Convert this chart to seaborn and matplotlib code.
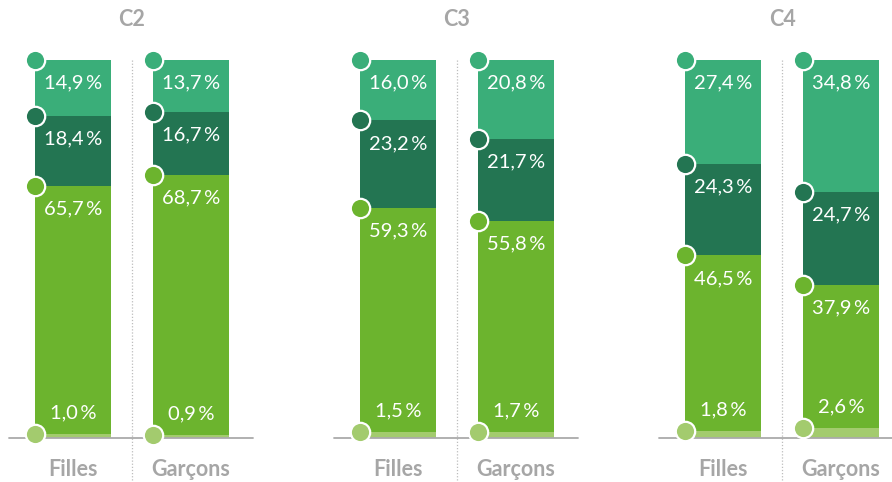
import matplotlib
matplotlib.use("Agg")
import matplotlib.pyplot as plt
import seaborn as sns
import numpy as np
import pandas as pd

# Data: share of pupils per level, stacked from bottom to top
cycles = ["C2", "C3", "C4"]
groupes = ["Filles", "Garçons"]
niveau_1 = {"C2": [1.0, 0.9], "C3": [1.5, 1.7], "C4": [1.8, 2.6]}
niveau_2 = {"C2": [65.7, 68.7], "C3": [59.3, 55.8], "C4": [46.5, 37.9]}
niveau_3 = {"C2": [18.4, 16.7], "C3": [23.2, 21.7], "C4": [24.3, 24.7]}
niveau_4 = {"C2": [14.9, 13.7], "C3": [16.0, 20.8], "C4": [27.4, 34.8]}

couleurs = ["#a3cb6e", "#6cb42e", "#237552", "#3aae79"]
gris = "#a6a6a6"

sns.set_theme(style="white")
plt.rcParams["font.family"] = ["Lato", "DejaVu Sans"]

W, H = 892, 482
fig = plt.figure(figsize=(W / 100, H / 100), dpi=100)

bar_w = 0.644
unit = 118.0            # pixels per category step
base_px = 438           # baseline (0 %)
top_px = 60             # 100 %
panel_left = [9, 334, 659]
panel_w = 244
x_left = -64 / unit

def fmt(v):
    return f"{v:.1f}".replace(".", ",") + "\u2009%"

for k, cyc in enumerate(cycles):
    ax = fig.add_axes([panel_left[k] / W, (H - base_px) / H,
                       panel_w / W, (base_px - top_px) / H])
    layers = [niveau_1[cyc], niveau_2[cyc], niveau_3[cyc], niveau_4[cyc]]
    cum = np.cumsum(np.array(layers), axis=0)   # shape (4, 2)

    # Overlapping cumulative bars, tallest first
    for lvl in range(3, -1, -1):
        df = pd.DataFrame({"groupe": groupes, "valeur": cum[lvl]})
        sns.barplot(data=df, x="groupe", y="valeur", color=couleurs[lvl],
                    saturation=1, width=bar_w, ax=ax, zorder=2,
                    linewidth=0, edgecolor="none")

    for i in range(2):
        for lvl in range(4):
            top = cum[lvl, i]
            ax.scatter([i - bar_w / 2], [top], s=195, color=couleurs[lvl],
                       edgecolor="white", linewidth=1.6, zorder=5, clip_on=False)
            dy = 21 if lvl == 0 else -23
            ax.annotate(fmt(layers[lvl][i]), xy=(i, top), xytext=(0, dy),
                        textcoords="offset pixels", ha="center", va="center",
                        color="white", fontsize=14.5, fontweight="normal",
                        zorder=6)
        ax.annotate(groupes[i], xy=(i, 0), xytext=(0, -32),
                    textcoords="offset pixels", ha="center", va="center",
                    color=gris, fontsize=15.5, fontweight="bold",
                    annotation_clip=False)

    # dotted separator between the two bars
    ax.plot([0.5, 0.5], [100, -(H - base_px) / (base_px - top_px) * 100],
            color="#bdbdbd", linestyle=(0, (1, 1.5)), linewidth=0.9,
            clip_on=False, zorder=1)
    ax.axhline(0, color="#aaaaaa", linewidth=1.3, zorder=3, clip_on=False)

    ax.annotate(cyc, xy=(0.5, 100), xytext=(0, 60 - 20),
                textcoords="offset pixels", ha="center", va="center",
                color=gris, fontsize=15.5, fontweight="bold",
                annotation_clip=False)

    ax.set_xlim(x_left, x_left + panel_w / unit)
    ax.set_ylim(0, 100)
    ax.set_xlabel("")
    ax.set_ylabel("")
    ax.set_xticks([])
    ax.set_yticks([])
    sns.despine(ax=ax, left=True, bottom=True)
    ax.patch.set_alpha(0)

fig.savefig("out.png", dpi=100)
